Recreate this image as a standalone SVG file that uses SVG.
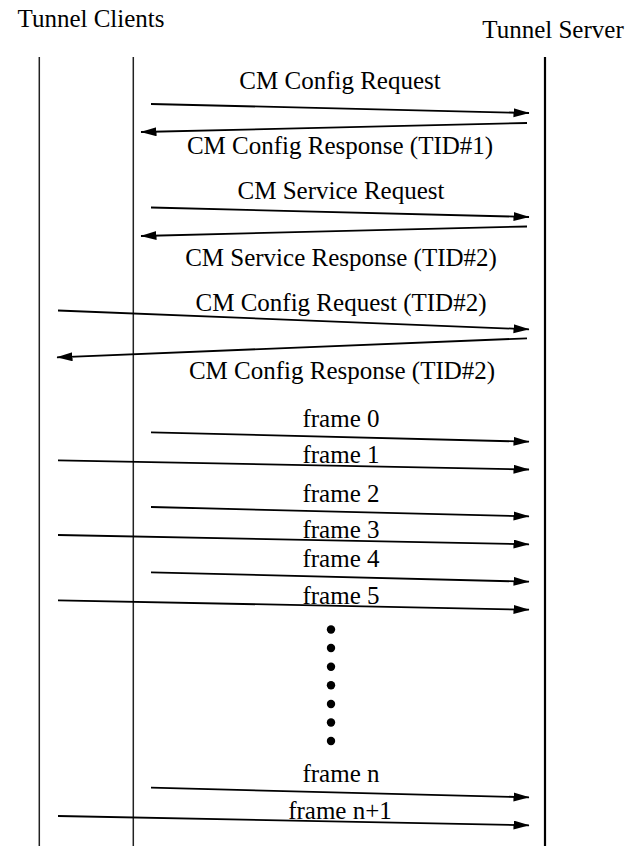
<svg xmlns="http://www.w3.org/2000/svg" width="639" height="846" viewBox="0 0 639 846">
  <style>
    text { font-family: "Liberation Serif", "Times New Roman", serif; font-size: 25px; fill: #000; }
    .lbl { text-anchor: middle; }
    .life { stroke: #222; stroke-width: 1.5; fill: none; }
    .server { stroke: #000; stroke-width: 2.2; fill: none; }
    .msg { stroke: #000; stroke-width: 1.8; fill: none; marker-end: url(#head); }
    .dot { fill: #000; }
  </style>
  <defs>
    <marker id="head" markerUnits="userSpaceOnUse" markerWidth="17" markerHeight="10" refX="15.5" refY="4.5" orient="auto">
      <path d="M0,0 L16,4.5 L0,9 Z" fill="#000"/>
    </marker>
  </defs>

  <!-- Participants -->
  <g id="tunnel-clients">
    <text x="91" y="27" class="lbl">Tunnel Clients</text>
    <line class="life" x1="39.3" y1="57" x2="39.3" y2="846"/>
    <line class="life" x1="133.3" y1="57" x2="133.3" y2="846"/>
  </g>
  <g id="tunnel-server">
    <text x="553" y="38" class="lbl">Tunnel Server</text>
    <line class="server" x1="545" y1="57" x2="545" y2="846"/>
  </g>

  <!-- Message labels -->
  <g id="labels">
    <text x="340" y="89" class="lbl">CM Config Request</text>
    <text x="340" y="154" class="lbl">CM Config Response (TID#1)</text>
    <text x="341" y="199" class="lbl">CM Service Request</text>
    <text x="341" y="266" class="lbl">CM Service Response (TID#2)</text>
    <text x="341" y="311" class="lbl">CM Config Request (TID#2)</text>
    <text x="342" y="379" class="lbl">CM Config Response (TID#2)</text>
    <text x="341" y="427" class="lbl">frame 0</text>
    <text x="341" y="463" class="lbl">frame 1</text>
    <text x="341" y="502" class="lbl">frame 2</text>
    <text x="341" y="538" class="lbl">frame 3</text>
    <text x="341" y="567" class="lbl">frame 4</text>
    <text x="341" y="604" class="lbl">frame 5</text>
    <text x="341" y="782" class="lbl">frame n</text>
    <text x="340" y="819" class="lbl">frame n+1</text>
  </g>

  <!-- Continuation dots -->
  <g id="ellipsis">
    <circle class="dot" cx="331" cy="629.5" r="4.2"/>
    <circle class="dot" cx="331" cy="648" r="4.2"/>
    <circle class="dot" cx="331" cy="666.7" r="4.2"/>
    <circle class="dot" cx="331" cy="685.3" r="4.2"/>
    <circle class="dot" cx="331" cy="704" r="4.2"/>
    <circle class="dot" cx="331" cy="722.5" r="4.2"/>
    <circle class="dot" cx="331" cy="741" r="4.2"/>
  </g>

  <!-- Connectors -->
  <g id="connectors">
    <line class="msg" x1="151" y1="104" x2="529" y2="113"/>
    <line class="msg" x1="527" y1="123" x2="141" y2="132"/>
    <line class="msg" x1="151" y1="207.5" x2="529" y2="217"/>
    <line class="msg" x1="527" y1="226.5" x2="141" y2="236"/>
    <line class="msg" x1="58" y1="310.5" x2="529" y2="329.3"/>
    <line class="msg" x1="527" y1="338.3" x2="57" y2="357.3"/>
    <line class="msg" x1="151" y1="432.3" x2="529" y2="441.7"/>
    <line class="msg" x1="58" y1="460.3" x2="529" y2="469.5"/>
    <line class="msg" x1="151" y1="507" x2="529" y2="516.3"/>
    <line class="msg" x1="58" y1="535" x2="529" y2="544.3"/>
    <line class="msg" x1="151" y1="572.3" x2="529" y2="581.7"/>
    <line class="msg" x1="58" y1="600.3" x2="529" y2="609.7"/>
    <line class="msg" x1="151" y1="787.7" x2="529" y2="797.3"/>
    <line class="msg" x1="58" y1="816" x2="529" y2="825.3"/>
  </g>
</svg>
